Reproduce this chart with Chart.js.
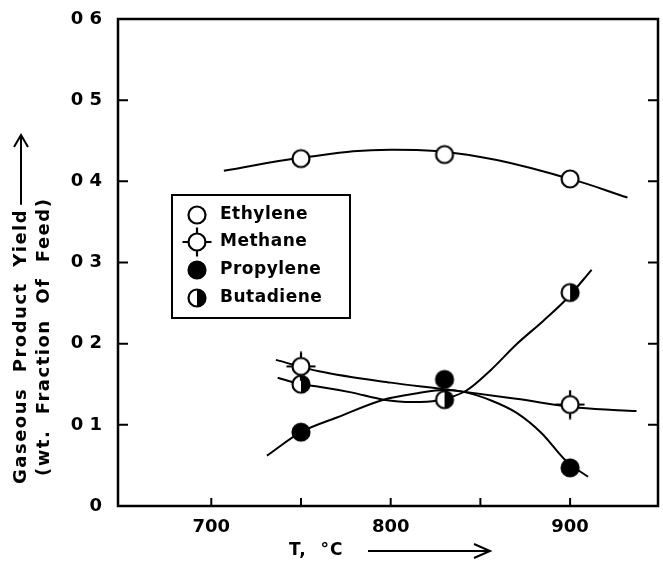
<!DOCTYPE html>
<html>
<head>
<meta charset="utf-8">
<script src="https://cdn.jsdelivr.net/npm/chart.js@4.4.0/dist/chart.umd.min.js"></script>
<style>
  html, body { margin: 0; padding: 0; background: #fff; }
</style>
</head>
<body>
<canvas id="chart" width="663" height="564"></canvas>
<script>
// Temperatures of the measured points (deg C)
const temps = [750, 830, 900];

// Measured yields (wt. fraction of feed)
const ethylene = [0.428, 0.433, 0.403];
const methane = [0.172, null, 0.125];
const propylene = [0.091, 0.156, 0.047];
const butadiene = [0.150, 0.131, 0.263];

// Hand-drawn fitted curves
const ethyleneCurveT = [707, 750, 800, 850, 900, 932];
const ethyleneCurve = [0.413, 0.429, 0.439, 0.430, 0.403, 0.380];
const methaneCurveT = [736, 760, 800, 830, 870, 905, 937];
const methaneCurve = [0.180, 0.166, 0.152, 0.144, 0.132, 0.121, 0.117];
const propyleneCurveT = [731, 750, 770, 796, 815, 830, 842, 856, 870, 884, 898, 910];
const propyleneCurve = [0.062, 0.091, 0.109, 0.131, 0.139, 0.143, 0.140, 0.130, 0.115, 0.090, 0.055, 0.036];
const butadieneCurveT = [737, 750, 760, 778, 796, 812, 826, 842, 856, 870, 885, 898, 912];
const butadieneCurve = [0.158, 0.150, 0.147, 0.140, 0.131, 0.128, 0.130, 0.142, 0.168, 0.199, 0.228, 0.255, 0.291];

// Axis ticks
const xTicks = [700, 800, 900];
const xMinorTicks = [750, 850];
const yTicks = [0, 0.1, 0.2, 0.3, 0.4, 0.5, 0.6];
const yTickLabels = ['0', '0 1', '0 2', '0 3', '0 4', '0 5', '0 6'];

const seriesNames = ['Ethylene', 'Methane', 'Propylene', 'Butadiene'];

const FONT = 'DejaVu Sans';

// Marker glyphs drawn once on small canvases
function makeMarker(kind) {
  const c = document.createElement('canvas');
  c.width = 30;
  c.height = 30;
  const g = c.getContext('2d');
  const cx = 15, cy = 15, r = 8.5;
  g.lineWidth = 2.2;
  g.strokeStyle = '#000';
  if (kind === 'Methane') {
    g.beginPath();
    g.moveTo(cx, cy - r - 6); g.lineTo(cx, cy + r + 6);
    g.moveTo(cx - r - 6, cy); g.lineTo(cx + r + 6, cy);
    g.stroke();
  }
  g.beginPath();
  g.arc(cx, cy, r, 0, Math.PI * 2);
  g.fillStyle = kind === 'Propylene' ? '#000' : '#fff';
  g.fill();
  g.stroke();
  if (kind === 'Butadiene') {
    g.beginPath();
    g.arc(cx, cy, r, -Math.PI / 2, Math.PI / 2);
    g.closePath();
    g.fillStyle = '#000';
    g.fill();
  }
  return c;
}

const markers = {};
seriesNames.forEach(n => { markers[n] = makeMarker(n); });

function pts(xs, ys) {
  return xs.map((x, i) => ({ x: x, y: ys[i] }));
}

function curve(xs, ys, smooth) {
  const ds = {
    data: pts(xs, ys),
    showLine: true,
    borderColor: '#000',
    borderWidth: 2,
    pointRadius: 0,
    order: 2
  };
  if (smooth) ds.tension = 0.4;
  else ds.cubicInterpolationMode = 'monotone';
  return ds;
}

function points(name, ys) {
  return {
    label: name,
    data: pts(temps, ys).filter(p => p.y !== null),
    showLine: false,
    pointStyle: markers[name],
    order: 1
  };
}

// Box, inward ticks, legend and axis titles
const frame = {
  id: 'frame',
  afterDraw(chart) {
    const { ctx, chartArea: a, scales: { x, y } } = chart;
    ctx.save();
    ctx.strokeStyle = '#000';
    ctx.fillStyle = '#000';
    ctx.lineWidth = 2.5;
    ctx.strokeRect(a.left, a.top, a.right - a.left, a.bottom - a.top);

    ctx.lineWidth = 2;
    ctx.beginPath();
    yTicks.forEach(v => {
      if (v === yTicks[0] || v === yTicks[yTicks.length - 1]) return;
      const py = y.getPixelForValue(v);
      ctx.moveTo(a.left, py); ctx.lineTo(a.left + 10, py);
      ctx.moveTo(a.right, py); ctx.lineTo(a.right - 10, py);
    });
    xTicks.concat(xMinorTicks).forEach(v => {
      const px = x.getPixelForValue(v);
      ctx.moveTo(px, a.bottom); ctx.lineTo(px, a.bottom - 8);
    });
    ctx.stroke();

    // legend
    ctx.lineWidth = 2;
    ctx.strokeRect(172, 195, 178, 123);
    ctx.font = 'bold 17px "' + FONT + '"';
    ctx.letterSpacing = '0.5px';
    ctx.textAlign = 'left';
    ctx.textBaseline = 'middle';
    const rows = [215, 242, 270, 298];
    seriesNames.forEach((n, i) => {
      ctx.drawImage(markers[n], 197 - 15, rows[i] - 15);
      ctx.fillText(n, 220, rows[i]);
    });

    // y title, two rotated lines
    ctx.font = 'bold 18px "' + FONT + '"';
    ctx.letterSpacing = '1.5px';
    ctx.save();
    ctx.translate(21, 484);
    ctx.rotate(-Math.PI / 2);
    const t1 = 'Gaseous  Product  Yield';
    ctx.fillText(t1, 0, 0);
    const w1 = ctx.measureText(t1).width;
    const end = 484 - 135;
    ctx.beginPath();
    ctx.moveTo(w1 + 4, 0); ctx.lineTo(end, 0);
    ctx.moveTo(end - 12, -7); ctx.lineTo(end, 0); ctx.lineTo(end - 12, 7);
    ctx.stroke();
    ctx.restore();

    ctx.save();
    ctx.translate(44, 476);
    ctx.rotate(-Math.PI / 2);
    ctx.fillText('(wt.  Fraction  Of  Feed)', 0, 0);
    ctx.restore();

    // x title
    ctx.font = 'bold 17px "' + FONT + '"';
    ctx.letterSpacing = '1px';
    ctx.fillText('T,  \u00B0C', 289, 551);
    ctx.beginPath();
    ctx.moveTo(368, 551); ctx.lineTo(490, 551);
    ctx.moveTo(474, 544); ctx.lineTo(490, 551); ctx.lineTo(474, 558);
    ctx.stroke();
    ctx.restore();
  }
};

new Chart(document.getElementById('chart'), {
  type: 'scatter',
  data: {
    datasets: [
      curve(ethyleneCurveT, ethyleneCurve, true),
      curve(methaneCurveT, methaneCurve),
      curve(propyleneCurveT, propyleneCurve),
      curve(butadieneCurveT, butadieneCurve),
      points('Ethylene', ethylene),
      points('Methane', methane),
      points('Propylene', propylene),
      points('Butadiene', butadiene)
    ]
  },
  options: {
    responsive: false,
    animation: false,
    layout: { padding: { top: 19, right: 3, left: 0, bottom: 0 } },
    plugins: { legend: { display: false }, tooltip: { enabled: false } },
    scales: {
      x: {
        type: 'linear',
        min: 648,
        max: 949,
        grid: { display: false },
        border: { display: false },
        afterBuildTicks: s => { s.ticks = xTicks.map(v => ({ value: v })); },
        afterFit: s => { s.height = 58; },
        ticks: {
          color: '#000',
          padding: 3,
          font: { family: FONT, size: 18, weight: 'bold' }
        }
      },
      y: {
        min: 0,
        max: 0.6,
        grid: { display: false },
        border: { display: false },
        afterBuildTicks: s => { s.ticks = yTicks.map(v => ({ value: v })); },
        afterFit: s => { s.width = 118; },
        ticks: {
          color: '#000',
          padding: 8,
          font: { family: FONT, size: 18, weight: 'bold' },
          callback: (v, i) => yTickLabels[i]
        }
      }
    }
  },
  plugins: [frame]
});
</script>
</body>
</html>
